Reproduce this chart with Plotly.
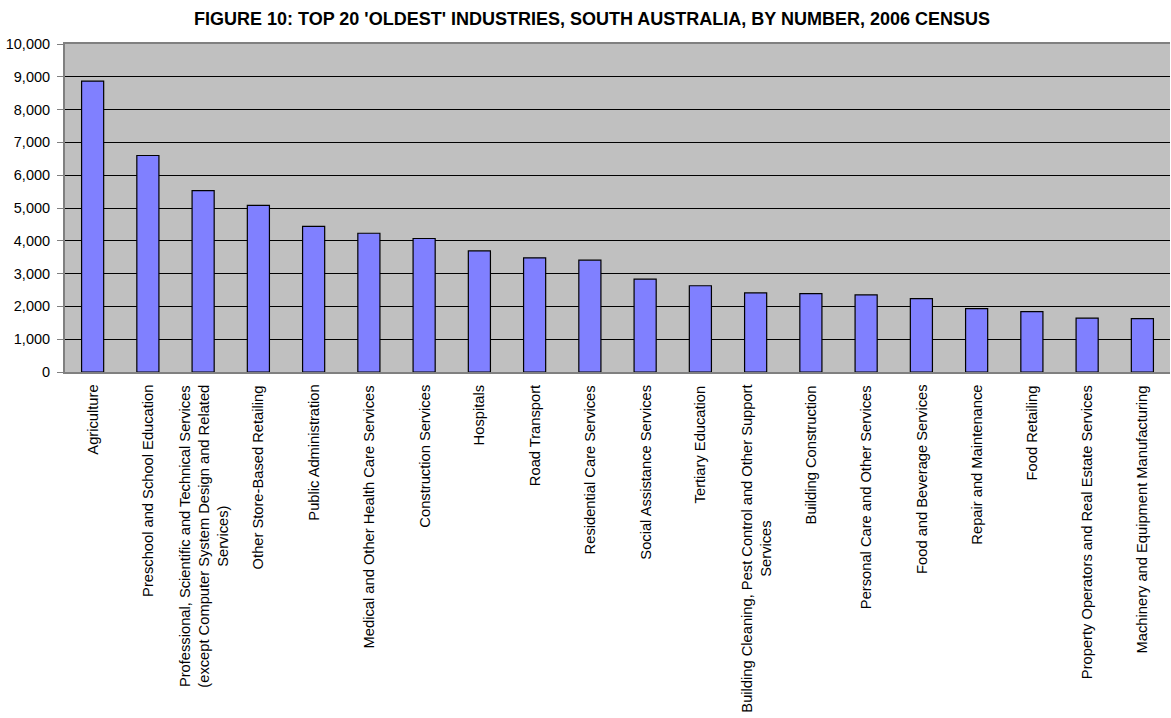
import plotly.graph_objects as go

categories = [
    "Agriculture",
    "Preschool and School Education",
    "Professional, Scientific and Technical Services<br>(except Computer System Design and Related<br>Services)",
    "Other Store-Based Retailing",
    "Public Administration",
    "Medical and Other Health Care Services",
    "Construction Services",
    "Hospitals",
    "Road Transport",
    "Residential Care Services",
    "Social Assistance Services",
    "Tertiary Education",
    "Building Cleaning, Pest Control and Other Support<br>Services",
    "Building Construction",
    "Personal Care and Other Services",
    "Food and Beverage Services",
    "Repair and Maintenance",
    "Food Retailing",
    "Property Operators and Real Estate Services",
    "Machinery and Equipment Manufacturing",
]
values = [8870, 6600, 5530, 5080, 4440, 4230, 4070, 3690, 3480, 3410,
          2830, 2630, 2410, 2390, 2350, 2240, 1930, 1840, 1640, 1630]
y_ticks = list(range(0, 10001, 1000))
title_text = "FIGURE 10: TOP 20 'OLDEST' INDUSTRIES, SOUTH AUSTRALIA, BY NUMBER, 2006 CENSUS"

FONT = "Liberation Sans, Arial, sans-serif"
x_idx = list(range(len(categories)))

fig = go.Figure(go.Bar(
    x=x_idx, y=values,
    marker=dict(color="#8080FF", line=dict(color="#000000", width=1.2)),
    width=0.4,
))

annotations = [
    dict(x=i, y=0, xref="x", yref="paper", yshift=-11,
         text=c, textangle=-90, showarrow=False,
         xanchor="center", yanchor="top", align="center",
         font=dict(family=FONT, size=14.7, color="#000000"))
    for i, c in zip(x_idx, categories)
]

fig.update_layout(
    width=1171, height=718,
    margin=dict(l=65, r=1, t=44, b=346),
    paper_bgcolor="#FFFFFF",
    plot_bgcolor="#C0C0C0",
    showlegend=False,
    bargap=0.6,
    title=dict(text="<b>" + title_text + "</b>", x=592 / 1171, xanchor="center",
               y=1 - 19 / 718, yanchor="middle", yref="container",
               font=dict(family=FONT, size=18, color="#000000")),
    font=dict(family=FONT, size=14, color="#000000"),
    xaxis=dict(range=[-0.5, len(categories) - 0.5], showticklabels=False,
               showgrid=False, zeroline=False, ticks="",
               showline=True, linecolor="#808080", linewidth=2, mirror=True),
    yaxis=dict(range=[0, 10000], tickvals=y_ticks, tickformat=",",
               showgrid=True, gridcolor="#000000", gridwidth=1,
               zeroline=False, showline=True, linecolor="#808080", linewidth=2,
               ticks="outside", ticklen=6, tickcolor="#808080", tickwidth=1,
               ticklabelstandoff=4,
               tickfont=dict(family=FONT, size=14.5, color="#000000")),
    annotations=annotations,
)

fig.write_html("out.html", config={"displayModeBar": False},
               post_script="document.body.style.margin='0';document.body.style.padding='0';")
